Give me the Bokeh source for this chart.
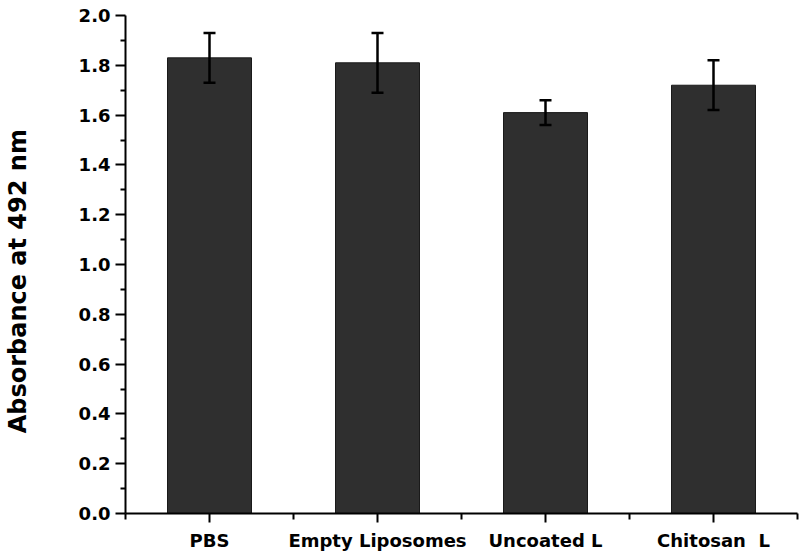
from bokeh.plotting import figure
from bokeh.models import ColumnDataSource, FixedTicker, Range1d, Whisker, TeeHead, CustomJSTickFormatter
from bokeh.embed import file_html
from bokeh.resources import INLINE

categories = ["PBS", "Empty Liposomes", "Uncoated L", "Chitosan\u00a0 L"]
absorbance = [1.83, 1.81, 1.61, 1.72]
error = [0.10, 0.12, 0.05, 0.10]
y_ticks = [0.0, 0.2, 0.4, 0.6, 0.8, 1.0, 1.2, 1.4, 1.6, 1.8, 2.0]
y_minor = [0.1, 0.3, 0.5, 0.7, 0.9, 1.1, 1.3, 1.5, 1.7, 1.9]

xs = [i + 1 for i in range(len(categories))]
src = ColumnDataSource(dict(
    x=xs, top=absorbance,
    upper=[a + e for a, e in zip(absorbance, error)],
    lower=[a - e for a, e in zip(absorbance, error)],
))

p = figure(width=800, height=553, output_backend="svg", toolbar_location=None,
           x_range=Range1d(0.5, len(categories) + 0.5), y_range=Range1d(0, 2.0),
           min_border_left=123, min_border_right=3, min_border_top=15, min_border_bottom=37)
p.outline_line_color = None
p.xgrid.visible = False
p.ygrid.visible = False
p.background_fill_color = "white"
p.border_fill_color = "white"

p.vbar(x="x", top="top", width=0.5, bottom=0, source=src,
       fill_color="#2f2f2f", line_color="#1a1a1a", line_width=1)

tee_u = TeeHead(size=12, line_width=2.5, line_color="black")
tee_l = TeeHead(size=12, line_width=2.5, line_color="black")
w = Whisker(base="x", upper="upper", lower="lower", source=src, level="overlay",
            line_width=2.5, line_color="black", upper_head=tee_u, lower_head=tee_l)
p.add_layout(w)

font = "DejaVu Sans"
# y axis
p.yaxis.ticker = FixedTicker(ticks=y_ticks, minor_ticks=y_minor)
p.yaxis.formatter = CustomJSTickFormatter(code="return tick.toFixed(1);")
p.yaxis.axis_label = "Absorbance at 492 nm\u00a0\u00a0\u00a0\u00a0"
p.yaxis.axis_label_text_font = font
p.yaxis.axis_label_text_font_style = "bold"
p.yaxis.axis_label_text_font_size = "24px"
p.yaxis.axis_label_text_color = "black"
p.yaxis.axis_label_standoff = 44
p.yaxis.major_label_text_font = font
p.yaxis.major_label_text_font_style = "bold"
p.yaxis.major_label_text_font_size = "18px"
p.yaxis.major_label_text_color = "black"
p.yaxis.major_label_standoff = 5
p.yaxis.major_tick_out = 10
p.yaxis.major_tick_in = 0
p.yaxis.minor_tick_out = 5
p.yaxis.minor_tick_in = 0
p.yaxis.axis_line_width = 2
p.yaxis.major_tick_line_width = 2
p.yaxis.minor_tick_line_width = 2
p.yaxis.axis_line_color = "black"
p.yaxis.major_tick_line_color = "black"
p.yaxis.minor_tick_line_color = "black"

# x axis
p.xaxis.ticker = FixedTicker(ticks=xs, minor_ticks=[x - 0.5 for x in xs] + [xs[-1] + 0.5])
p.xaxis.major_label_overrides = {x: c for x, c in zip(xs, categories)}
p.xaxis.major_label_text_font = font
p.xaxis.major_label_text_font_style = "bold"
p.xaxis.major_label_text_font_size = "18px"
p.xaxis.major_label_text_color = "black"
p.xaxis.major_label_standoff = 7
p.xaxis.major_tick_out = 9
p.xaxis.major_tick_in = 0
p.xaxis.minor_tick_out = 6
p.xaxis.minor_tick_in = 0
p.xaxis.axis_line_width = 2
p.xaxis.major_tick_line_width = 2
p.xaxis.minor_tick_line_width = 2
p.xaxis.axis_line_color = "black"
p.xaxis.major_tick_line_color = "black"
p.xaxis.minor_tick_line_color = "black"

open("out.html", "w").write(file_html(p, INLINE))
